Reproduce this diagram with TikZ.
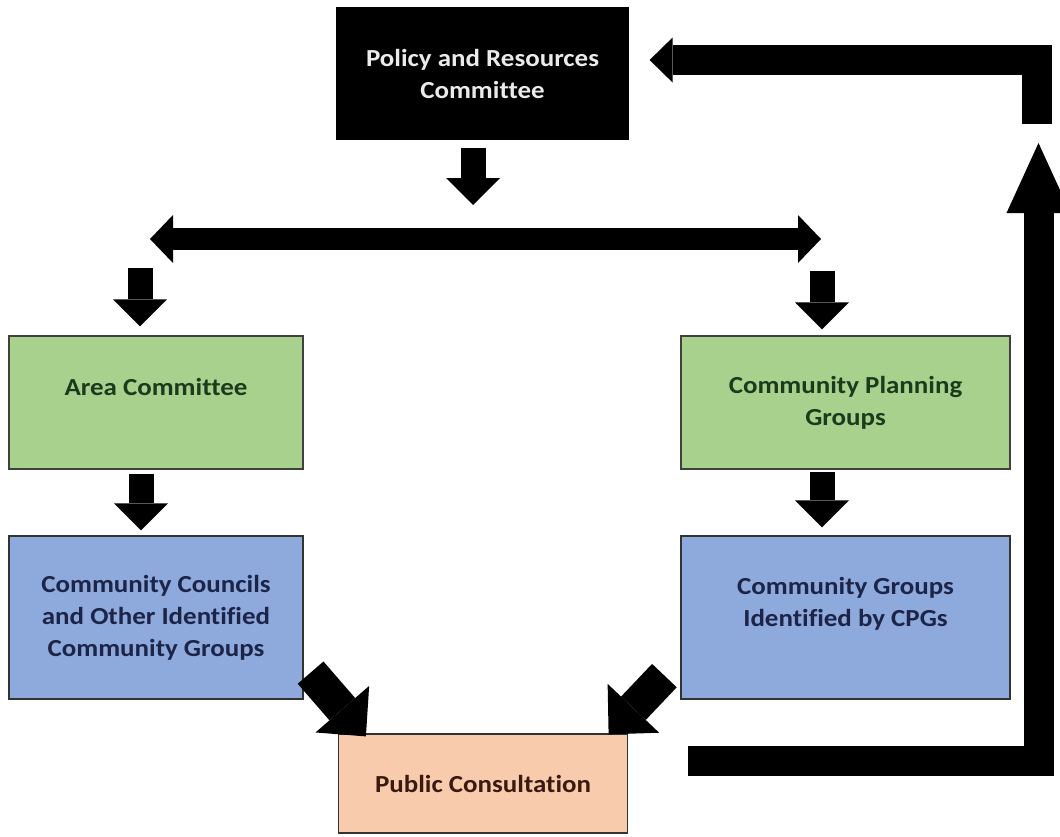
\documentclass[tikz,border=0pt]{standalone}
\usepackage{fontspec}
\setmainfont{Carlito}[FakeStretch=1.1,Ligatures=NoCommon]
\usepackage{tikz}
\usetikzlibrary{positioning,arrows.meta,calc}
\definecolor{boxgreen}{HTML}{A9D18E}
\definecolor{boxblue}{HTML}{8EA9DB}
\definecolor{boxpeach}{HTML}{F8CBAD}
\definecolor{txtgreen}{HTML}{1C3A1C}
\definecolor{txtblue}{HTML}{1C2448}
\definecolor{txtpeach}{HTML}{3A1A10}
\tikzset{box/.style={rectangle,line width=1.2pt,align=center,inner sep=0pt,
    font=\fontsize{24.5}{32}\selectfont\bfseries}}
\tikzset{greenbox/.style={box,draw=black!75,fill=boxgreen,text=txtgreen}}
\tikzset{bluebox/.style={box,draw=black!80,fill=boxblue,text=txtblue}}
\tikzset{peachbox/.style={box,draw=black!80,fill=boxpeach,text=txtpeach}}
\tikzset{dnarrow/.style={line width=25pt,-{Triangle[length=27pt,width=54pt,line width=0pt]}}}
\tikzset{dblarrow/.style={line width=22pt,
    {Triangle[length=23pt,width=48pt,line width=0pt]}-{Triangle[length=23pt,width=48pt,line width=0pt]}}}
\tikzset{diagarrow/.style={line width=34pt,-{Triangle[length=36pt,width=71pt,line width=0pt]}}}
\tikzset{retarrow/.style={line width=30pt,line join=miter}}

\begin{document}
\begin{tikzpicture}[x=1pt,y=-1pt]
  \useasboundingbox[fill=white] (0,0) rectangle (1060,836);

  % boxes
  \node[box,fill=black,text=white!92!black,minimum width=293pt,minimum height=133pt]
    (policy) at (482.5,73.5) {Policy and Resources\\Committee};
  \node[greenbox,minimum width=294pt,minimum height=133pt]
    (area) at (156,402.5) {Area Committee\\\mbox{}};
  \node[greenbox,minimum width=329pt,minimum height=133pt]
    (cpg) at (845.5,402.5) {Community Planning\\Groups};
  \node[bluebox,minimum width=294pt,minimum height=163pt]
    (councils) at (156,617.5) {Community Councils\\and Other Identified\\Community Groups};
  \node[bluebox,minimum width=329pt,minimum height=163pt]
    (groups) at (845.5,617.5) {Community Groups\\Identified by CPGs\\\mbox{}};
  \node[peachbox,minimum width=289pt,minimum height=99pt]
    (consult) at (483,783.5) {Public Consultation};

  % split arrow
  \coordinate (split) at (473,227);
  \coordinate (splitL) at (150,239);
  \coordinate (splitR) at (821,239);
  \coordinate (leftdrop) at (140,250);
  \coordinate (rightdrop) at (822,250);
  \draw[dnarrow,shorten <=7pt,shorten >=22pt] (policy.south -| split) -- (split);
  \draw[dblarrow] (splitL) -- (splitR);
  \draw[dnarrow,shorten <=18pt,shorten >=9pt] (leftdrop) -- (area.north -| leftdrop);
  \draw[dnarrow,shorten <=21pt,shorten >=6pt] (rightdrop) -- (cpg.north -| rightdrop);

  % down the two sides
  \draw[dnarrow,shorten <=4pt,shorten >=5pt] ([xshift=-15pt]area.south) -- ([xshift=-15pt]councils.north);
  \draw[dnarrow,shorten <=2pt,shorten >=8pt] ([xshift=-23.5pt]cpg.south) -- ([xshift=-23.5pt]groups.north);

  % into the consultation
  \draw[diagarrow] ([shift={(7pt,27pt)}]councils.south east) -- ([shift={(28pt,-3pt)}]consult.north west);
  \draw[diagarrow] ([shift={(-16pt,24pt)}]groups.south west) -- ([shift={(-19.5pt,-1pt)}]consult.north east);

  % back to the top
  \coordinate (rettip) at (1038.5,143);
  \coordinate (rettop) at (1037,124);
  \draw[retarrow,-{Triangle[length=70pt,width=64pt,line width=0pt]}]
    ([shift={(60pt,22.5pt)}]consult.east) -| (rettip);
  \draw[retarrow,-{Triangle[length=23pt,width=45pt,line width=0pt]}]
    (rettop) |- ([shift={(20pt,13.5pt)}]policy.east);
\end{tikzpicture}
\end{document}
